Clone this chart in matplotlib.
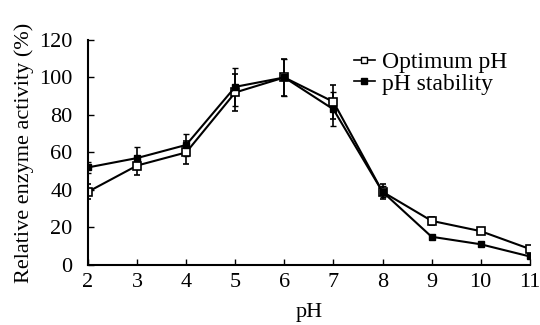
import numpy as np
import matplotlib.pyplot as plt
from matplotlib.lines import Line2D

plt.rcParams['font.family'] = ['Liberation Serif', 'DejaVu Serif']

# data
ph = [2, 3, 4, 5, 6, 7, 8, 9, 10, 11]
optimum = [39, 53, 60, 92, 100, 87, 39, 23.5, 18, 8.5]
optimum_err = [4, 5, 6, 10, 10, 9, 4, 2, 1.5, 1]
stability = [52, 57, 64, 95, 100, 83, 39, 15, 11, 4.5]
stability_err = [3, 6, 6, 10, 10, 9, 3, 1, 1, 1]

fig = plt.figure(figsize=(5.4, 3.25), dpi=100)
ax = fig.add_axes([0.163, 0.185, 0.818, 0.692])

ax.errorbar(ph, optimum, yerr=optimum_err, color='black', lw=1.5, marker='s',
            ms=5.5, mfc='white', mec='black', mew=1.2, capsize=2.5, elinewidth=1.2)
ax.errorbar(ph, stability, yerr=stability_err, color='black', lw=1.5, marker='s',
            ms=4.5, mfc='black', mec='black', capsize=2.5, elinewidth=1.2)

ax.set_xlim(2, 11)
ax.set_ylim(0, 120)
ax.set_xticks(ph)
ax.set_yticks(range(0, 121, 20))
ax.tick_params(direction='in', labelsize=16, width=1, length=4)
ax.tick_params(axis='x', pad=6)
ax.tick_params(axis='y', pad=11)
ax.spines['top'].set_visible(False)
ax.spines['right'].set_visible(False)
ax.spines['left'].set_linewidth(1.5)
ax.spines['bottom'].set_linewidth(1.5)

ax.set_xlabel('pH', fontsize=16, labelpad=8)
ax.set_ylabel('Relative enzyme activity (%)', fontsize=16, labelpad=4)

handles = [Line2D([], [], color='black', lw=1.2, marker='s', ms=4.5, mfc='white', mec='black'),
           Line2D([], [], color='black', lw=1.2, marker='s', ms=4, mfc='black', mec='black')]
ax.legend(handles, ['Optimum pH', 'pH stability'], loc='upper left',
          bbox_to_anchor=(0.58, 0.99), frameon=False, fontsize=17,
          handlelength=0.9, handletextpad=0.3, labelspacing=0.0, borderaxespad=0)

fig.savefig('out.png', dpi=100)
